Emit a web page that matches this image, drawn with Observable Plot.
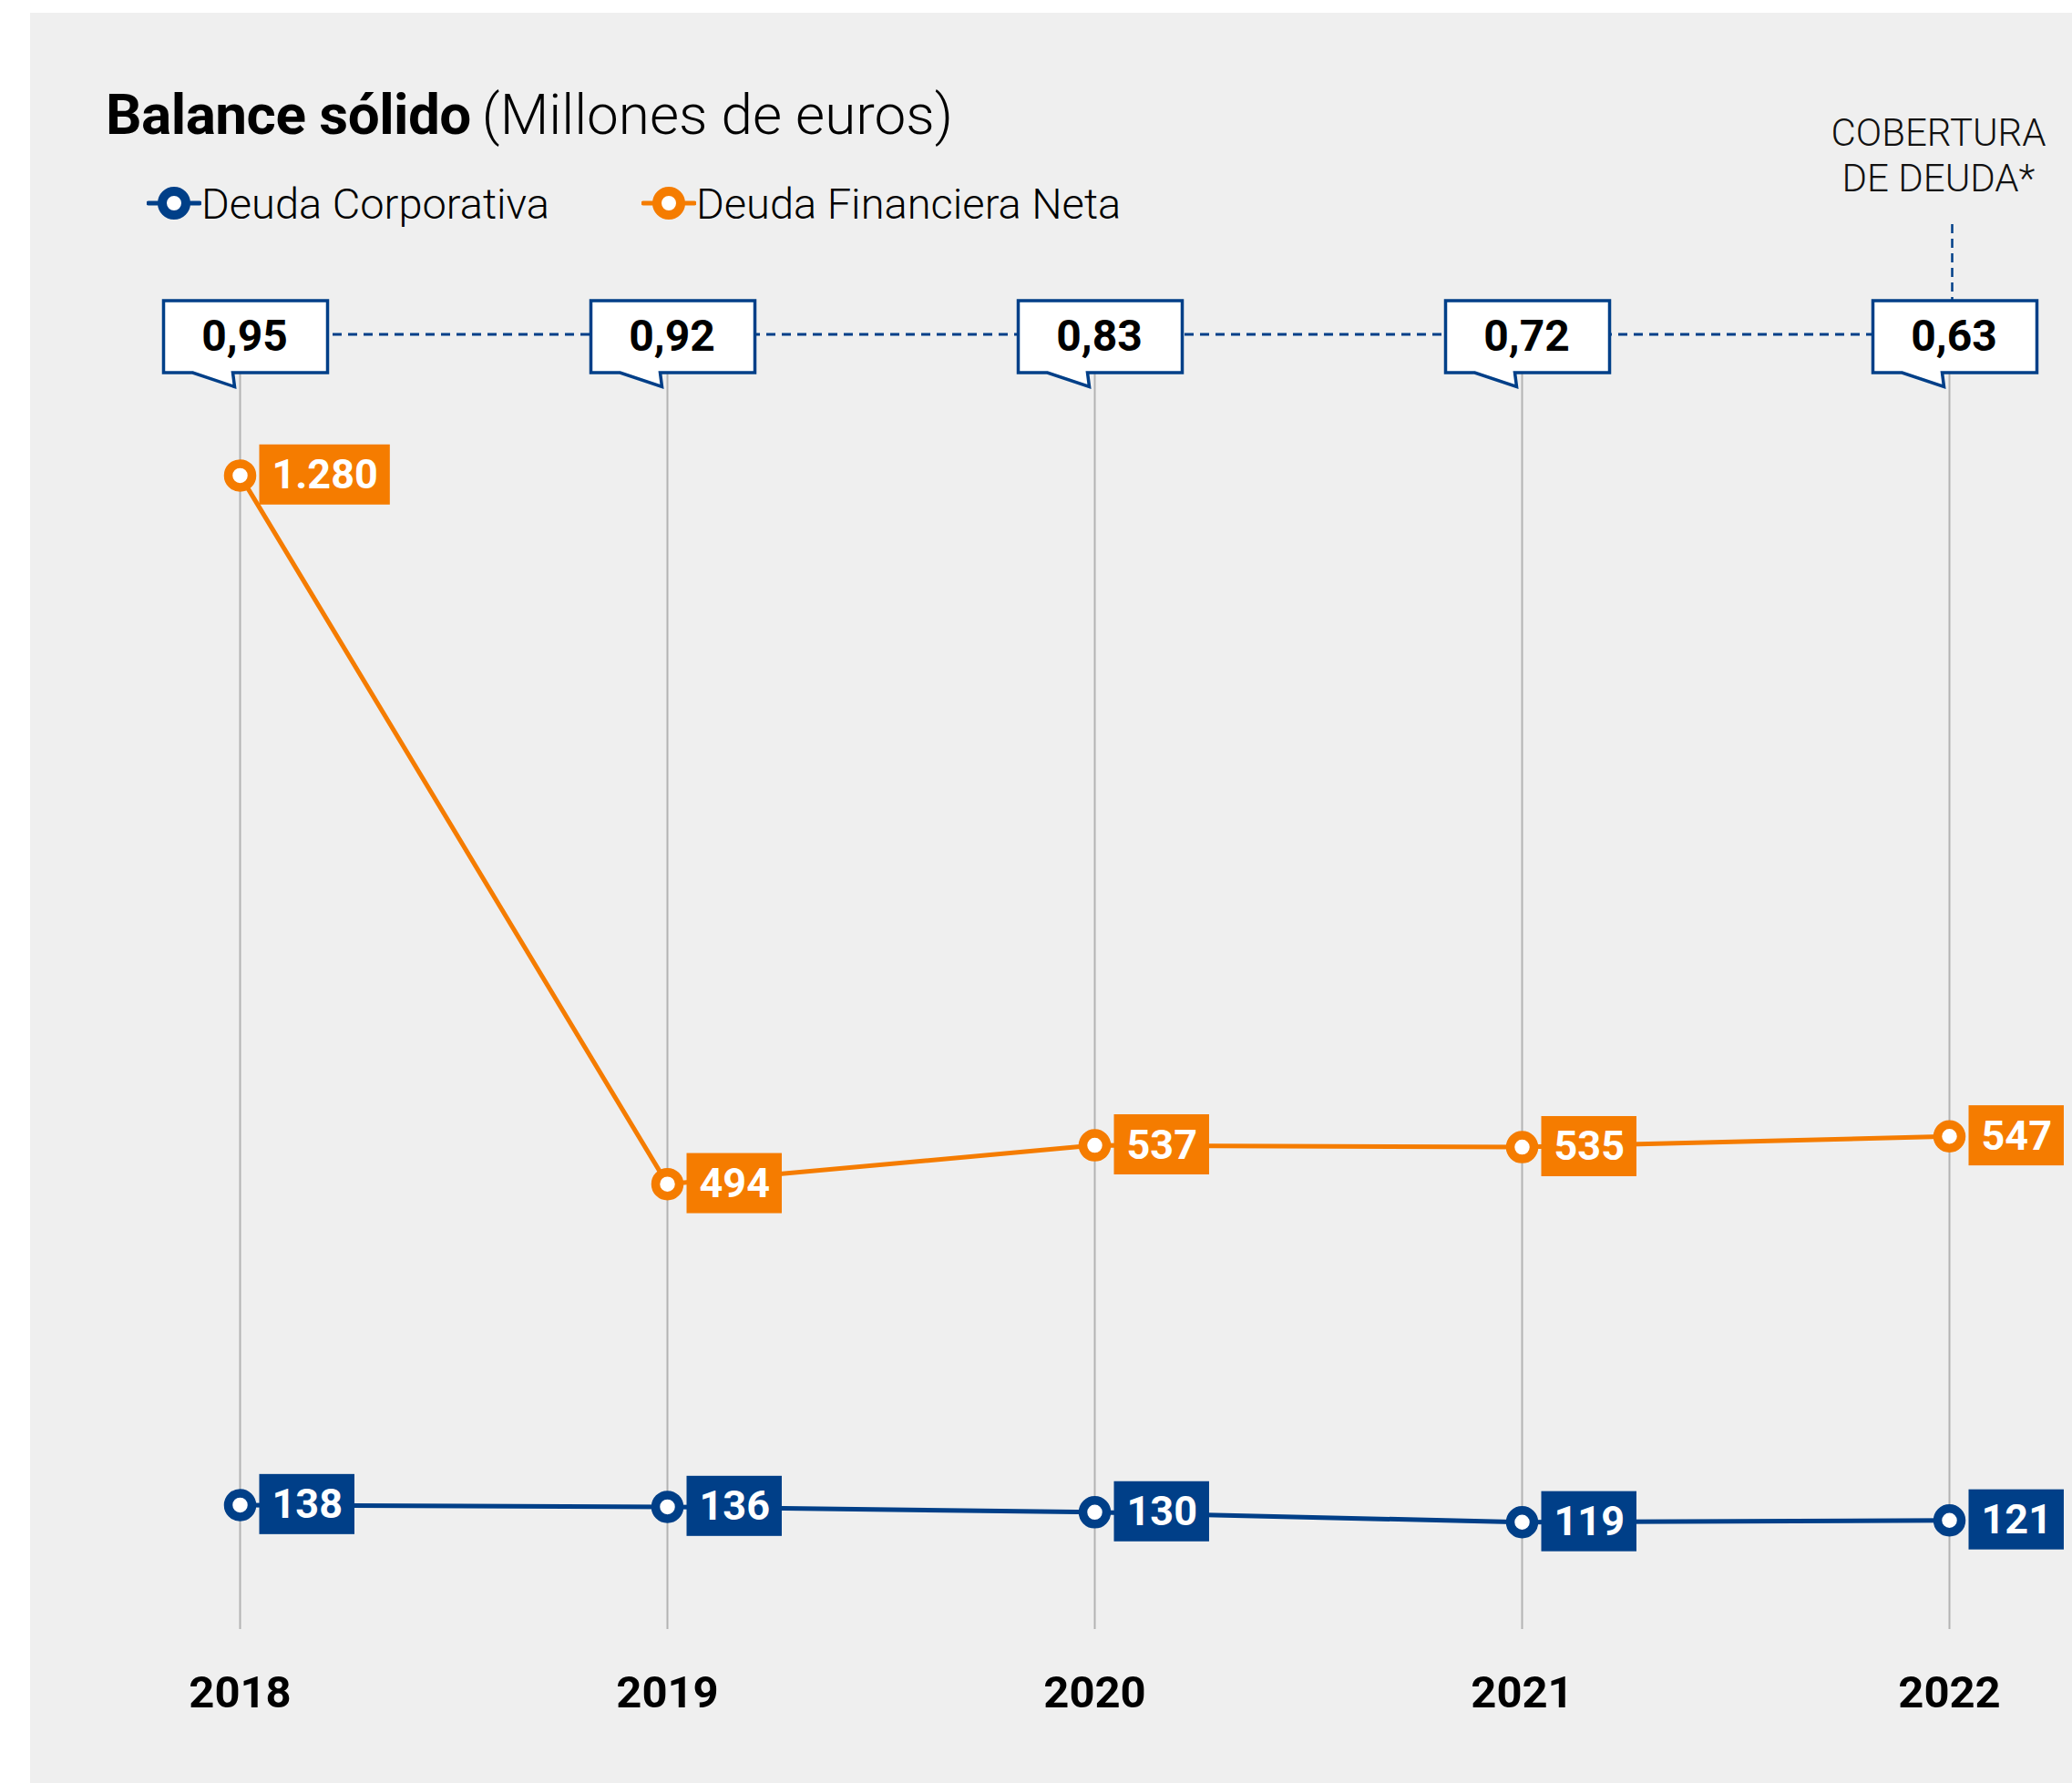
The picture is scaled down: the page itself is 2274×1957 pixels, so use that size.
<!DOCTYPE html>
<html>
<head>
<meta charset="utf-8">
<script src="https://cdn.jsdelivr.net/npm/d3@7"></script>
<script src="https://cdn.jsdelivr.net/npm/@observablehq/plot@0.6"></script>
<style>
  html, body { margin: 0; padding: 0; background: #ffffff; }
  body { width: 2274px; height: 1957px; overflow: hidden; font-family: Roboto, sans-serif; }
  #wrap { position: absolute; left: 33px; top: 14px; width: 2241px; height: 1943px; background: #efefef; }
  #title { position: absolute; left: 83px; top: 81px; font-size: 62px; line-height: 1; white-space: nowrap; color: #000; }
  #title b { font-weight: 700; letter-spacing: -0.5px; }
  #title span { font-weight: 300; margin-left: 12px; }
  .leg { position: absolute; top: 186px; height: 46px; display: flex; align-items: center; font-size: 47px; font-weight: 300; line-height: 1; color: #000; white-space: nowrap; }
  .leg svg { margin-right: 0px; }
  #chart { position: absolute; left: 0; top: 0; }
</style>
</head>
<body>
<div id="wrap">
  <div id="title"><b>Balance sólido</b><span>(Millones de euros)</span></div>
  <div class="leg" id="leg1" style="left:128px"></div>
  <div class="leg" id="leg2" style="left:671px"></div>
  <div id="chart"></div>
</div>
<script>
// ---- data ----
const years = ["2018", "2019", "2020", "2021", "2022"];
const deudaCorporativa = [138, 136, 130, 119, 121];
const deudaFinancieraNeta = [1280, 494, 537, 535, 547];
const coberturaDeuda = [0.95, 0.92, 0.83, 0.72, 0.63];
const seriesNames = ["Deuda Corporativa", "Deuda Financiera Neta"];
const coberturaTitle = "COBERTURA\nDE DEUDA*";

// ---- styles ----
const blue = "#003f88";
const orange = "#f57c00";
const W = 2241, H = 1943;
const mTop = 354, mBottom = 169, mLeft = 230, mRight = 134.5;
const yMax = 1435;

const loc = d3.formatLocale({decimal: ",", thousands: ".", grouping: [3], currency: ["", " €"]});
const fmtInt = loc.format(",d");
const fmtDec = loc.format(".2f");

const corp = years.map((year, i) => ({year, value: deudaCorporativa[i]}));
const neta = years.map((year, i) => ({year, value: deudaFinancieraNeta[i]}));
const cob = years.map((year, i) => ({year, value: coberturaDeuda[i]}));
const header = [{year: years[years.length - 1], label: coberturaTitle}];

// speech-bubble symbol for the coverage callouts
const bubble = {
  draw(ctx) {
    ctx.moveTo(-84, -39.5);
    ctx.lineTo(96, -39.5);
    ctx.lineTo(96, 39.5);
    ctx.lineTo(-8, 39.5);
    ctx.lineTo(-6, 55);
    ctx.lineTo(-52, 39.5);
    ctx.lineTo(-84, 39.5);
    ctx.closePath();
  }
};

// legend
function legendItem(el, color, name) {
  el.innerHTML = `<svg width="60" height="40" viewBox="0 0 60 40">
    <line x1="2" x2="58" y1="20" y2="20" stroke="${color}" stroke-width="5" stroke-linecap="round"/>
    <circle cx="30" cy="20" r="13" fill="#fff" stroke="${color}" stroke-width="10"/>
  </svg><span>${name}</span>`;
}
legendItem(document.getElementById("leg1"), blue, seriesNames[0]);
legendItem(document.getElementById("leg2"), orange, seriesNames[1]);

const svg = Plot.plot({
  width: W, height: H,
  marginTop: mTop, marginBottom: mBottom, marginLeft: mLeft, marginRight: mRight,
  style: {background: "transparent", fontFamily: "Roboto, sans-serif", overflow: "visible"},
  x: {type: "point", domain: years, padding: 0, axis: null},
  y: {domain: [0, yMax], axis: null},
  marks: [
    Plot.ruleX(years, {stroke: "#b3b3b3", strokeWidth: 2}),
    Plot.ruleY([yMax], {x1: () => years[0], x2: () => years[years.length - 1], stroke: blue, strokeWidth: 3, strokeDasharray: "10,7", dy: -1.5}),
    Plot.ruleX([years[years.length - 1]], {stroke: blue, strokeWidth: 2.5, strokeDasharray: "10,6", insetTop: -122, insetBottom: (H - mTop - mBottom) + 39, dx: 3}),
    Plot.dot(cob, {x: "year", frameAnchor: "top", symbol: bubble, r: 10, fill: "white", stroke: blue, strokeWidth: 3.5, dy: 1}),
    Plot.text(cob, {x: "year", frameAnchor: "top", lineAnchor: "middle", text: d => fmtDec(d.value), fontSize: 48, fontWeight: 700, fill: "#000", dx: 5, dy: 1}),
    Plot.text(header, {x: "year", text: "label", frameAnchor: "top", lineAnchor: "bottom", lineHeight: 1.19, dy: -159, dx: -12, fontSize: 42, fontWeight: 300, fill: "#111"}),
    Plot.line(corp, {x: "year", y: "value", stroke: blue, strokeWidth: 5}),
    Plot.line(neta, {x: "year", y: "value", stroke: orange, strokeWidth: 5}),
    Plot.dot(corp, {x: "year", y: "value", r: 13, fill: "white", stroke: blue, strokeWidth: 9.5}),
    Plot.dot(neta, {x: "year", y: "value", r: 13, fill: "white", stroke: orange, strokeWidth: 9.5}),
    Plot.text(corp, {x: "year", y: "value", text: d => fmtInt(d.value), dx: 35, textAnchor: "start", fill: "white", fontSize: 45, fontWeight: 700, ariaDescription: "label-blue"}),
    Plot.text(neta, {x: "year", y: "value", text: d => fmtInt(d.value), dx: 35, textAnchor: "start", fill: "white", fontSize: 45, fontWeight: 700, ariaDescription: "label-orange"}),
    Plot.text(years, {x: d => d, text: d => d, frameAnchor: "bottom", lineAnchor: "middle", dy: 69.5, fontSize: 49, fontWeight: 700, fill: "#000"})
  ]
});
document.getElementById("chart").appendChild(svg);

// colored boxes behind the value labels, sized from each rendered label
for (const [desc, color] of [["label-blue", blue], ["label-orange", orange]]) {
  svg.querySelectorAll(`g[aria-description="${desc}"] text`).forEach(t => {
    const b = t.getBBox();
    const r = document.createElementNS("http://www.w3.org/2000/svg", "rect");
    const cy = b.y + b.height / 2;
    r.setAttribute("x", b.x - 14);
    r.setAttribute("width", b.width + 27);
    r.setAttribute("y", cy - 33);
    r.setAttribute("height", 66);
    r.setAttribute("fill", color);
    const tr = t.getAttribute("transform");
    if (tr) r.setAttribute("transform", tr);
    t.parentNode.insertBefore(r, t);
  });
}
</script>
</body>
</html>
